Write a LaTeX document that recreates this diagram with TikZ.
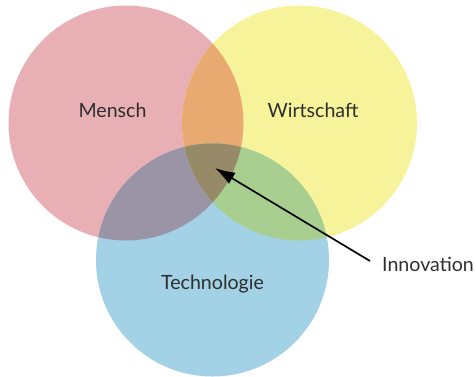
\documentclass[tikz,border=0pt]{standalone}
\usepackage{fontspec}
\setmainfont{Lato}
\usetikzlibrary{arrows.meta}
\definecolor{cR}{HTML}{E8B0B4}
\definecolor{cY}{HTML}{F7F39A}
\definecolor{cB}{HTML}{A3D2E6}
\definecolor{cRY}{HTML}{E8AA70}
\definecolor{cRB}{HTML}{9A94A6}
\definecolor{cYB}{HTML}{A8CF8F}
\definecolor{cRYB}{HTML}{978A68}
\definecolor{txt}{HTML}{2E2E2E}
\tikzset{
  lbl/.style={text=txt, font=\fontsize{19.6}{23}\selectfont, inner sep=0pt},
  arr/.style={line width=1.7pt, -{Latex[length=20pt,width=13pt]}}
}
\begin{document}
\begin{tikzpicture}[x=1pt,y=-1pt]
\useasboundingbox (0,0) rectangle (476,376);
\def\Rc{(126,123) circle[radius=117.5]}
\def\Yc{(299.5,123) circle[radius=117.5]}
\def\Bc{(212.5,260) circle[radius=116.5]}
\fill[cR] \Rc;
\fill[cY] \Yc;
\fill[cB] \Bc;
\begin{scope}
  \clip \Rc;
  \fill[cRY] \Yc;
  \fill[cRB] \Bc;
\end{scope}
\begin{scope}
  \clip \Yc;
  \fill[cYB] \Bc;
\end{scope}
\begin{scope}
  \clip \Rc;
  \clip \Yc;
  \fill[cRYB] \Bc;
\end{scope}
\node[lbl, anchor=base] (mensch) at (112.5,117) {Mensch};
\node[lbl, anchor=base] (wirt) at (313,117) {Wirtschaft};
\node[lbl, anchor=base] (tech) at (212.5,289.5) {Technologie};
\node[lbl, anchor=base west] (inno) at (382,271) {Innovation};
\coordinate (tail) at (370,261);
\coordinate (tip) at (215,168);
\draw[arr] (tail) -- (tip);
\end{tikzpicture}
\end{document}
